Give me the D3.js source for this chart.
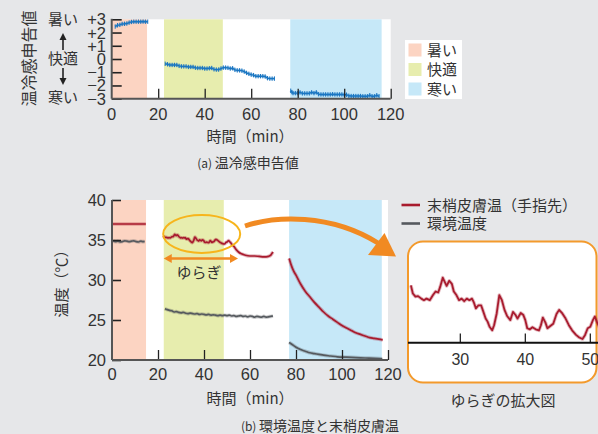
<!DOCTYPE html>
<html><head><meta charset="utf-8">
<script src="https://cdn.jsdelivr.net/npm/d3@7/dist/d3.min.js"></script>
<style>
html,body{margin:0;padding:0;background:#e6e7e9;}
svg{display:block;}
text{font-family:"Noto Sans CJK JP","Noto Sans",sans-serif;fill:#333;}
text.num{font-family:"Liberation Sans",Arial,sans-serif;}
</style></head>
<body>
<script>
// ---- (a) thermal sensation votes ----
const feelTicks = [3, 2, 1, 0, -1, -2, -3];
const feelTickLabels = ["+3", "+2", "+1", "0", "−1", "−2", "−3"];
const timeTicks = [0, 20, 40, 60, 80, 100, 120];
const phaseNames = ["暑い", "快適", "寒い"];
const phaseColors = ["#fcd4c2", "#e7edae", "#c6e8f8"];
const phaseA = [[0, 15.2], [22.5, 47.8], [76.8, 116.1]];
const phaseB = [[0, 14.8], [22.5, 48.6], [77, 117.3]];

const feelHotT = [1.5, 2.5, 3.5, 4.5, 5.5, 6.5, 7.5, 8.5, 9.5, 10.5, 11.5, 12.5, 13.5, 14.5, 15.5];
const feelHotV = [2.45, 2.55, 2.58, 2.65, 2.66, 2.68, 2.75, 2.8, 2.82, 2.82, 2.82, 2.82, 2.83, 2.82, 2.82];
const feelMidT = [23, 24, 25, 26, 27, 28, 29, 30, 31, 32, 33, 34, 35, 36, 37, 38, 39, 40, 41, 42, 43, 44, 45, 46, 47, 48, 49, 50, 51, 52, 53, 54, 55, 56, 57, 58, 59, 60, 61, 62, 63, 64, 65, 66, 67, 68, 69, 70];
const feelMidV = [-0.36, -0.4, -0.45, -0.45, -0.45, -0.45, -0.52, -0.56, -0.56, -0.56, -0.6, -0.6, -0.6, -0.66, -0.68, -0.68, -0.68, -0.72, -0.72, -0.7, -0.68, -0.78, -0.8, -0.8, -0.72, -0.65, -0.65, -0.67, -0.72, -0.7, -0.82, -0.86, -0.86, -0.88, -0.95, -1.05, -1.12, -1.18, -1.22, -1.3, -1.3, -1.3, -1.3, -1.32, -1.45, -1.48, -1.48, -1.48];
const feelColdT = [77, 77.5, 78, 79, 80, 81, 82, 83, 84, 85, 86, 87, 88, 89, 90, 91, 92, 93, 94, 95, 96, 97, 98, 99, 100, 101, 102, 103, 104, 105, 106, 107, 108, 109, 110, 111, 112, 113, 114, 115];
const feelColdV = [-2.4, -2.5, -2.58, -2.58, -2.58, -2.52, -2.6, -2.6, -2.6, -2.6, -2.52, -2.58, -2.52, -2.66, -2.68, -2.68, -2.68, -2.68, -2.68, -2.66, -2.68, -2.68, -2.68, -2.68, -2.7, -2.7, -2.78, -2.8, -2.8, -2.8, -2.8, -2.8, -2.82, -2.82, -2.82, -2.74, -2.82, -2.82, -2.74, -2.82];

// ---- (b) ambient and skin temperature ----
const tempTicks = [40, 35, 30, 25, 20];
const skinHotT = [0.3, 14.7];
const skinHotV = [37, 37];
const skinMidT = [22.4, 22.7, 23.1, 23.5, 24.0, 24.4, 24.8, 25.3, 25.8, 26.2, 26.6, 26.9, 27.3, 27.6, 27.9, 28.3, 28.7, 29.0, 29.4, 29.8, 30.2, 30.6, 31.0, 31.4, 31.8, 32.1, 32.4, 32.8, 33.2, 33.5, 33.9, 34.2, 34.5, 34.9, 35.2, 35.6, 36.0, 36.4, 36.8, 37.2, 37.7, 38.1, 38.5, 38.8, 39.3, 39.7, 40.0, 40.3, 40.7, 41.1, 41.6, 42.1, 42.4, 42.7, 43.1, 43.4, 43.8, 44.3, 44.8, 45.2, 45.7, 46.2, 46.7, 47.2, 47.8, 48.3, 48.8, 49.2, 49.6, 50.0, 50.4, 50.7, 51.0, 51.5, 52, 53, 54, 55, 56, 57, 58, 60, 62, 64, 66, 67, 68, 69, 69.5, 70];
const skinMidV = [35.55, 35.39, 35.33, 35.34, 35.29, 35.26, 35.29, 35.26, 35.36, 35.43, 35.41, 35.52, 35.70, 35.62, 35.54, 35.64, 35.58, 35.43, 35.36, 35.26, 35.29, 35.24, 35.29, 35.26, 35.29, 35.21, 35.10, 35.16, 35.16, 35.05, 34.90, 34.84, 34.74, 34.67, 34.77, 35.0, 35.36, 35.26, 35.07, 34.95, 34.87, 35.03, 34.97, 34.9, 35.01, 34.97, 34.87, 34.71, 34.69, 34.73, 34.69, 34.67, 34.77, 34.92, 34.82, 34.71, 34.75, 34.80, 34.99, 35.07, 35.0, 34.9, 34.77, 34.67, 34.58, 34.53, 34.5, 34.58, 34.71, 34.74, 34.87, 34.94, 34.84, 34.7, 34.5, 34.2, 33.8, 33.5, 33.3, 33.2, 33.1, 33.0, 33.0, 32.95, 32.9, 32.9, 32.95, 33.1, 33.3, 33.5];
const skinColdT = [77, 78, 79, 80, 82, 84, 86, 88, 90, 92, 94, 96, 98, 100, 102, 104, 106, 108, 110, 112, 114, 116, 117.7];
const skinColdV = [32.7, 31.8, 31.1, 30.6, 29.5, 28.6, 27.9, 27.2, 26.6, 26.0, 25.5, 25.1, 24.7, 24.3, 24.0, 23.7, 23.4, 23.2, 23.0, 22.8, 22.7, 22.6, 22.5];
const airHotT = [0.5, 1.5, 2.5, 3.5, 4.5, 5.5, 6.5, 7.5, 8.5, 9.5, 10.5, 11.5, 12.5, 13.5, 14.2];
const airHotV = [34.9, 34.8, 34.85, 34.75, 34.8, 34.9, 34.85, 34.8, 34.85, 34.9, 34.8, 34.75, 34.85, 34.8, 34.82];
const airMidT = [23, 24, 25, 26, 27, 28, 29, 30, 31, 32, 33, 34, 35, 36, 37, 38, 39, 40, 41, 42, 43, 44, 45, 46, 47, 48, 49, 50, 51, 52, 53, 54, 55, 56, 57, 58, 59, 60, 61, 62, 63, 64, 65, 66, 67, 68, 69, 70];
const airMidV = [26.4, 26.3, 26.2, 26.15, 26.0, 26.05, 25.95, 25.9, 25.95, 25.85, 25.8, 25.85, 25.8, 25.75, 25.8, 25.7, 25.75, 25.7, 25.65, 25.7, 25.6, 25.65, 25.6, 25.55, 25.6, 25.55, 25.6, 25.55, 25.6, 25.5, 25.55, 25.45, 25.5, 25.55, 25.45, 25.5, 25.4, 25.5, 25.45, 25.35, 25.45, 25.4, 25.35, 25.45, 25.35, 25.4, 25.45, 25.5];
const airColdT = [77, 78, 79, 80, 81, 82, 84, 86, 88, 90, 92, 95, 98, 102, 106, 110, 114, 117.5];
const airColdV = [22.2, 22.0, 21.8, 21.6, 21.45, 21.3, 21.1, 20.9, 20.8, 20.7, 20.6, 20.5, 20.4, 20.35, 20.3, 20.25, 20.2, 20.15];

const zoomTicks = [30, 40, 50];
const legendB = ["末梢皮膚温（手指先）", "環境温度"];

const W = 598, H = 434;
const svg = d3.select("body").append("svg").attr("width", W).attr("height", H);

const zip = (t, v) => t.map((d, i) => [d, v[i]]);
const RED = "#a81b2e", GRAY = "#55595e", BLUE = "#1a76c2", ORANGE = "#f18a22", INK = "#222";

// ========== panel (a) ==========
const xA = d3.scaleLinear().domain([0, 120]).range([111.7, 390.7]);
const yA = d3.scaleLinear().domain([-3, 3]).range([98.7, 19.3]);
const gA = svg.append("g");
gA.append("rect").attr("x", xA(0)).attr("y", yA(3)).attr("width", xA(120) - xA(0)).attr("height", yA(-3) - yA(3)).attr("fill", "#fff");
gA.selectAll(".ph").data(phaseA).join("rect")
  .attr("x", d => xA(d[0])).attr("width", d => xA(d[1]) - xA(d[0]))
  .attr("y", yA(3)).attr("height", yA(-3) - yA(3))
  .attr("fill", (d, i) => phaseColors[i]);

const lineA = d3.line().x(d => xA(d[0])).y(d => yA(d[1]));
[zip(feelHotT, feelHotV), zip(feelMidT, feelMidV), zip(feelColdT, feelColdV)].forEach(seg => {
  gA.append("path").attr("d", lineA(seg)).attr("fill", "none").attr("stroke", BLUE).attr("stroke-opacity", 0.35).attr("stroke-width", 3.2);
  gA.append("path").attr("d", lineA(seg)).attr("fill", "none").attr("stroke", BLUE).attr("stroke-width", 1.4);
  gA.selectAll(null).data(seg).join("line")
    .attr("x1", d => xA(d[0])).attr("x2", d => xA(d[0]))
    .attr("y1", d => yA(d[1]) - 2.2).attr("y2", d => yA(d[1]) + 2.2)
    .attr("stroke", BLUE).attr("stroke-width", 1);
});

// axes (a): ticks point inward
gA.append("g").attr("transform", `translate(${xA(0)},0)`)
  .call(d3.axisRight(yA).tickValues(feelTicks).tickSize(10).tickFormat(""))
  .call(g => g.select(".domain").remove())
  .call(g => g.selectAll("line").attr("stroke", INK).attr("stroke-width", 1.6));
gA.append("line").attr("x1", xA(0)).attr("x2", xA(0)).attr("y1", yA(3) - 0.5).attr("y2", yA(-3)).attr("stroke", "#555").attr("stroke-width", 2);
gA.append("g").attr("transform", `translate(0,${yA(-3)})`)
  .call(d3.axisTop(xA).tickValues(timeTicks.slice(1)).tickSize(10).tickFormat(""))
  .call(g => g.select(".domain").remove())
  .call(g => g.selectAll("line").attr("stroke", INK).attr("stroke-width", 1.3));
gA.append("line").attr("x1", xA(0)).attr("x2", xA(120)).attr("y1", yA(-3)).attr("y2", yA(-3)).attr("stroke", "#555").attr("stroke-width", 2);

gA.selectAll(".yl").data(feelTicks).join("text").attr("class", "num")
  .attr("x", 106).attr("y", d => yA(d) + 6).attr("text-anchor", "end")
  .attr("font-size", 16.5).text((d, i) => feelTickLabels[i]);
gA.selectAll(".xl").data(timeTicks).join("text").attr("class", "num")
  .attr("x", d => xA(d)).attr("y", 119.5).attr("text-anchor", "middle")
  .attr("font-size", 16.5).text(d => d);
gA.append("text").attr("x", 250).attr("y", 142).attr("text-anchor", "middle").attr("font-size", 15).text("時間（min）");
gA.append("text").attr("x", 248).attr("y", 168).attr("text-anchor", "middle").attr("font-size", 14)
  .call(t => { t.append("tspan").attr("font-size", 12).text("(a) "); t.append("tspan").text("温冷感申告値"); });
gA.append("text").attr("transform", "translate(35,58.5) rotate(-90)").attr("text-anchor", "middle").attr("font-size", 16).text("温冷感申告値");

// sensation scale words with arrows
gA.append("text").attr("x", 63).attr("y", 25).attr("text-anchor", "middle").attr("font-size", 15).text("暑い");
gA.append("text").attr("x", 63).attr("y", yA(0) + 5).attr("text-anchor", "middle").attr("font-size", 15).text("快適");
gA.append("text").attr("x", 63).attr("y", 103).attr("text-anchor", "middle").attr("font-size", 15).text("寒い");
gA.append("line").attr("x1", 63).attr("x2", 63).attr("y1", 50).attr("y2", 38).attr("stroke", INK).attr("stroke-width", 1.6);
gA.append("path").attr("d", "M63,33 L59.5,40 L66.5,40 Z").attr("fill", INK);
gA.append("line").attr("x1", 63).attr("x2", 63).attr("y1", 68).attr("y2", 80).attr("stroke", INK).attr("stroke-width", 1.6);
gA.append("path").attr("d", "M63,85 L59.5,78 L66.5,78 Z").attr("fill", INK);

// legend (a)
const legA = gA.append("g");
legA.append("rect").attr("x", 405).attr("y", 40).attr("width", 57).attr("height", 59).attr("fill", "#fff");
phaseNames.forEach((n, i) => {
  const cy = 50 + i * 19.5;
  legA.append("rect").attr("x", 408.5).attr("y", cy - 6.5).attr("width", 13).attr("height", 13).attr("fill", phaseColors[i]);
  legA.append("text").attr("x", 427).attr("y", cy + 5.5).attr("font-size", 15).text(n);
});

// ========== panel (b) ==========
const xB = d3.scaleLinear().domain([0, 120]).range([112, 388]);
const yB = d3.scaleLinear().domain([20, 40]).range([360, 200]);
const gB = svg.append("g");
gB.append("rect").attr("x", xB(0)).attr("y", yB(40)).attr("width", xB(120) - xB(0)).attr("height", yB(20) - yB(40)).attr("fill", "#fff");
gB.selectAll(".ph").data(phaseB).join("rect")
  .attr("x", d => xB(d[0])).attr("width", d => xB(d[1]) - xB(d[0]))
  .attr("y", yB(40)).attr("height", yB(20) - yB(40))
  .attr("fill", (d, i) => phaseColors[i]);

const lineB = d3.line().x(d => xB(d[0])).y(d => yB(d[1])).curve(d3.curveMonotoneX);
function softLine(g, seg, color, line) {
  g.append("path").attr("d", line(seg)).attr("fill", "none").attr("stroke", color).attr("stroke-opacity", 0.3).attr("stroke-width", 3.6).attr("stroke-linejoin", "round");
  g.append("path").attr("d", line(seg)).attr("fill", "none").attr("stroke", color).attr("stroke-width", 1.7).attr("stroke-linejoin", "round");
}
[zip(airHotT, airHotV), zip(airMidT, airMidV), zip(airColdT, airColdV)].forEach(s => softLine(gB, s, GRAY, lineB));
[zip(skinHotT, skinHotV), zip(skinMidT, skinMidV), zip(skinColdT, skinColdV)].forEach(s => softLine(gB, s, RED, lineB));

gB.append("g").attr("transform", `translate(${xB(0)},0)`)
  .call(d3.axisRight(yB).tickValues(tempTicks).tickSize(9).tickFormat(""))
  .call(g => g.select(".domain").remove())
  .call(g => g.selectAll("line").attr("stroke", INK).attr("stroke-width", 1.6));
gB.append("line").attr("x1", xB(0)).attr("x2", xB(0)).attr("y1", yB(40)).attr("y2", yB(20)).attr("stroke", "#555").attr("stroke-width", 2);
gB.append("g").attr("transform", `translate(0,${yB(20)})`)
  .call(d3.axisTop(xB).tickValues(timeTicks.slice(1)).tickSize(10).tickFormat(""))
  .call(g => g.select(".domain").remove())
  .call(g => g.selectAll("line").attr("stroke", INK).attr("stroke-width", 1.3));
gB.append("line").attr("x1", xB(0)).attr("x2", xB(120)).attr("y1", yB(20)).attr("y2", yB(20)).attr("stroke", "#555").attr("stroke-width", 2);

gB.selectAll(".yl").data(tempTicks).join("text").attr("class", "num")
  .attr("x", 106).attr("y", d => yB(d) + 6).attr("text-anchor", "end")
  .attr("font-size", 16.5).text(d => d);
gB.selectAll(".xl").data(timeTicks).join("text").attr("class", "num")
  .attr("x", d => xB(d)).attr("y", 379.5).attr("text-anchor", "middle")
  .attr("font-size", 16.5).text(d => d);
gB.append("text").attr("x", 250).attr("y", 404).attr("text-anchor", "middle").attr("font-size", 15).text("時間（min）");
gB.append("text").attr("x", 320).attr("y", 431).attr("text-anchor", "middle").attr("font-size", 14)
  .call(t => { t.append("tspan").attr("font-size", 12).text("(b) "); t.append("tspan").text("環境温度と末梢皮膚温"); });
gB.append("text").attr("transform", "translate(67,280) rotate(-90)").attr("text-anchor", "middle").attr("font-size", 15).text("温度（℃）");

// fluctuation highlight
gB.append("ellipse").attr("cx", 201.7).attr("cy", 234).attr("rx", 38.5).attr("ry", 19)
  .attr("fill", "none").attr("stroke", "#f7b51c").attr("stroke-width", 2);
const ay = 258.5;
gB.append("line").attr("x1", xB(22.5) + 6).attr("x2", 238 - 6).attr("y1", ay).attr("y2", ay).attr("stroke", ORANGE).attr("stroke-width", 2.4);
gB.append("path").attr("d", `M${xB(22.5)},${ay} l8,-4.5 l0,9 Z`).attr("fill", ORANGE);
gB.append("path").attr("d", `M238,${ay} l-8,-4.5 l0,9 Z`).attr("fill", ORANGE);
gB.append("text").attr("x", 199).attr("y", 278).attr("text-anchor", "middle").attr("font-size", 15).text("ゆらぎ");

// curved arrow to the enlarged view
gB.append("path").attr("d", "M245,226 C275,216 330,213 378,243")
  .attr("fill", "none").attr("stroke", ORANGE).attr("stroke-width", 5);
gB.append("path").attr("d", "M368,255 L384.5,233 L396,256.5 Z").attr("fill", ORANGE);

// legend (b)
[RED, GRAY].forEach((c, i) => {
  const cy = 205 + i * 18.5;
  gB.append("line").attr("x1", 401.5).attr("x2", 420).attr("y1", cy).attr("y2", cy).attr("stroke", c).attr("stroke-width", 2.6);
  gB.append("text").attr("x", 427).attr("y", cy + 5.5).attr("font-size", 15).text(legendB[i]);
});

// enlarged view of the fluctuation
const xZ = d3.scaleLinear().domain([30, 40]).range([460.3, 525.3]);
const yZ = d3.scaleLinear().domain([34.5, 35.7]).range([339, 277.7]);
const gZ = svg.append("g");
gZ.append("rect").attr("x", 408).attr("y", 241.5).attr("width", 188.5).attr("height", 141)
  .attr("rx", 15).attr("fill", "#fff").attr("stroke", "#f39a2c").attr("stroke-width", 2);
const zoomSeg = zip(skinMidT, skinMidV).filter(d => d[0] >= 21.8 && d[0] <= 51.6);
const lineZ = d3.line().x(d => xZ(d[0])).y(d => yZ(d[1]));
gZ.append("path").attr("d", lineZ(zoomSeg)).attr("fill", "none").attr("stroke", RED).attr("stroke-opacity", 0.3).attr("stroke-width", 3.6).attr("stroke-linejoin", "round");
gZ.append("path").attr("d", lineZ(zoomSeg)).attr("fill", "none").attr("stroke", RED).attr("stroke-width", 1.8).attr("stroke-linejoin", "round");
gZ.append("line").attr("x1", 408).attr("x2", 598).attr("y1", 342.7).attr("y2", 342.7).attr("stroke", "#111").attr("stroke-width", 2);
gZ.selectAll(".zt").data(zoomTicks).join("line")
  .attr("x1", d => xZ(d)).attr("x2", d => xZ(d)).attr("y1", 342.7).attr("y2", 333.5)
  .attr("stroke", "#111").attr("stroke-width", 1.2);
gZ.selectAll(".zl").data(zoomTicks).join("text").attr("class", "num")
  .attr("x", d => xZ(d)).attr("y", 365).attr("text-anchor", "middle").attr("font-size", 16).text(d => d);
gZ.append("text").attr("x", 503).attr("y", 406).attr("text-anchor", "middle").attr("font-size", 15).text("ゆらぎの拡大図");
</script>
</body></html>
